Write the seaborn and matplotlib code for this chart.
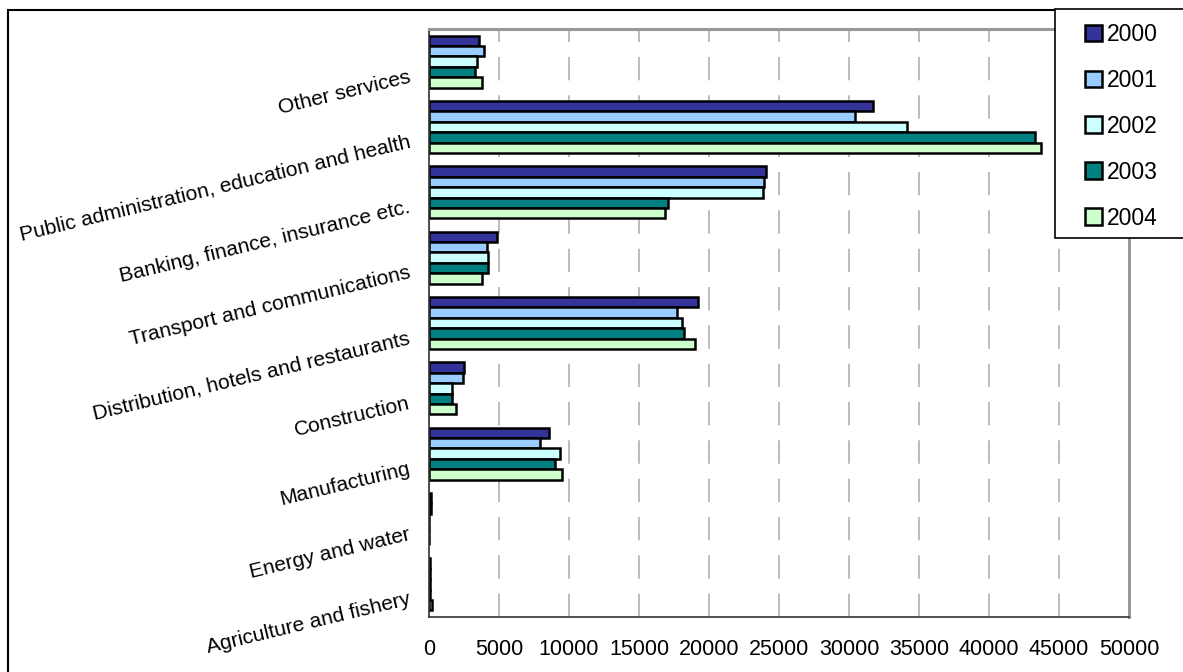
import pandas as pd
import matplotlib
matplotlib.use("Agg")
import matplotlib.pyplot as plt
import matplotlib.transforms as mtransforms
from matplotlib.patches import Rectangle, Patch
import seaborn as sns

# Sectors, top to bottom as shown in the chart
sectors = [
    "Other services",
    "Public administration, education and health",
    "Banking, finance, insurance etc.",
    "Transport and communications",
    "Distribution, hotels and restaurants",
    "Construction",
    "Manufacturing",
    "Energy and water",
    "Agriculture and fishery",
]
years = ["2000", "2001", "2002", "2003", "2004"]

v2000 = [3580, 31700, 24050, 4890, 19230, 2490, 8550, 150, 100]
v2001 = [3920, 30460, 23930, 4110, 17710, 2400, 7900, 150, 100]
v2002 = [3400, 34140, 23860, 4180, 18070, 1660, 9330, 0, 100]
v2003 = [3280, 43280, 17050, 4230, 18190, 1660, 9020, 0, 100]
v2004 = [3800, 43680, 16880, 3800, 19020, 1900, 9520, 0, 200]

colors = ["#333399", "#99CCFF", "#CCFFFF", "#008080", "#CCFFCC"]

# long format for seaborn
rows = []
for yr, vals in zip(years, [v2000, v2001, v2002, v2003, v2004]):
    for s, v in zip(sectors, vals):
        rows.append({"Sector": s, "Year": yr, "Value": v})
df = pd.DataFrame(rows)

sns.set_style("white")
plt.rcParams["font.family"] = ["Liberation Sans", "DejaVu Sans"]
plt.rcParams["text.color"] = "black"
plt.rcParams["xtick.color"] = "black"
plt.rcParams["ytick.color"] = "black"

fig = plt.figure(figsize=(11.83, 6.72), dpi=100)
ax = fig.add_axes([429 / 1183, 1 - 617 / 672, (1129 - 429) / 1183, (617 - 29) / 672])

sns.barplot(data=df, y="Sector", x="Value", hue="Year", order=sectors,
            hue_order=years, palette=colors, orient="h", width=0.8,
            edgecolor="black", linewidth=1.8, saturation=1, legend=False, ax=ax)

ax.set_xlim(0, 50000)
ax.set_ylim(len(sectors) - 0.5, -0.5)
ax.set_xticks(range(0, 50001, 5000))
ax.set_xlabel("")
ax.set_ylabel("")

# dashed vertical gridlines
ax.set_axisbelow(True)
ax.xaxis.grid(True, color="#b0b0b0", linewidth=1.2, linestyle=(0, (14, 9)))
ax.yaxis.grid(False)

# category boundary ticks on the y axis, labels drawn rotated below
ax.set_yticks([i - 0.5 for i in range(len(sectors) + 1)], minor=True)
ax.tick_params(axis="y", which="major", length=0, labelleft=False)
ax.tick_params(axis="y", which="minor", length=6, width=1, color="#333333", direction="out")
ax.tick_params(axis="x", length=6, width=1, color="#333333", direction="out",
               labelsize=15.5, pad=10, labelcolor="black")

offset = mtransforms.ScaledTranslation(-19 / 100, -15 / 100, fig.dpi_scale_trans)
for i, s in enumerate(sectors):
    ax.text(0, i, s, transform=ax.get_yaxis_transform() + offset,
            ha="right", va="center", rotation=13.5, rotation_mode="anchor",
            fontsize=15.1, color="black")

for side in ["left", "bottom"]:
    ax.spines[side].set_color("#333333")
    ax.spines[side].set_linewidth(1.2)
for side in ["top", "right"]:
    ax.spines[side].set_visible(True)
    ax.spines[side].set_color("#999999")
    ax.spines[side].set_linewidth(2.2)

# legend at the top right, with its own box
handles = [Patch(facecolor=c, edgecolor="black", linewidth=1.8, label=y)
           for c, y in zip(colors, years)]
leg = fig.legend(handles=handles, loc="upper left",
                 bbox_to_anchor=(1085 / 1183, 1 - 23 / 672),
                 frameon=False, fontsize=16.5,
                 handlelength=0.75, handleheight=0.75, handletextpad=0.22,
                 labelspacing=1.0, borderpad=0, borderaxespad=0)
for t in leg.get_texts():
    t.set_color("black")
fig.patches.append(Rectangle((1055 / 1183, 1 - 238 / 672), 0.2, (238 - 9) / 672,
                             transform=fig.transFigure, facecolor="white",
                             edgecolor="black", linewidth=1.2, zorder=1))

# outer chart frame
fig.patches.append(Rectangle((8 / 1183, -0.05), 1.2, 1 - 10 / 672 + 0.05,
                             transform=fig.transFigure, fill=False,
                             edgecolor="black", linewidth=1.5, zorder=0))

fig.savefig("out.png", dpi=100)
